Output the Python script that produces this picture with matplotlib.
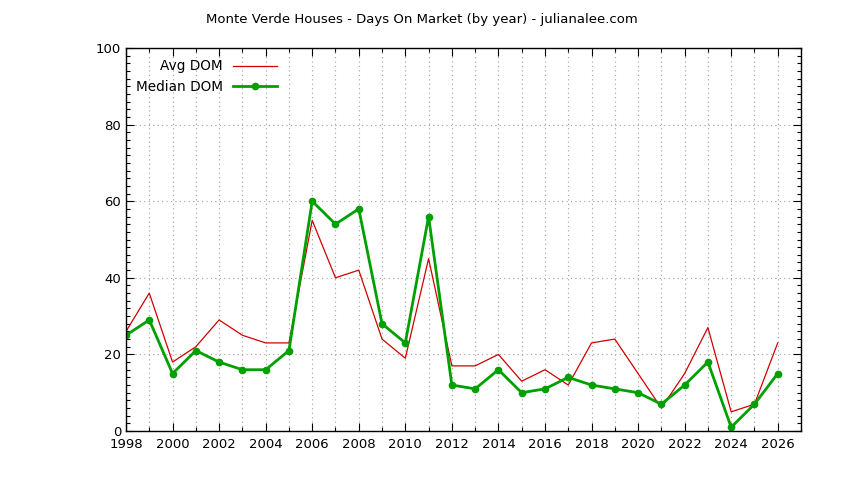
import matplotlib
matplotlib.use("Agg")
import matplotlib.pyplot as plt
from matplotlib.ticker import MultipleLocator

years = list(range(1998, 2027))
avg_dom = [26, 36, 18, 22, 29, 25, 23, 23, 55, 40, 42, 24, 19, 45,
           17, 17, 20, 13, 16, 12, 23, 24, 15, 6, 15, 27, 5, 7, 23]
median_dom = [25, 29, 15, 21, 18, 16, 16, 21, 60, 54, 58, 28, 23, 56,
              12, 11, 16, 10, 11, 14, 12, 11, 10, 7, 12, 18, 1, 7, 15]

plt.rcParams['font.family'] = ['DejaVu Sans']
plt.rcParams['font.size'] = 9.5

fig = plt.figure(figsize=(8.44, 4.8), dpi=100)
ax = fig.add_axes([126/844, 1-431/480, (801-126)/844, (431-48)/480])

ax.plot(years, avg_dom, color='#d00000', lw=0.9, label='Avg DOM')
ax.plot(years, median_dom, color='#00a000', lw=2.0, marker='o', ms=4.5,
        label='Median DOM')

ax.set_xlim(1998, 2027)
ax.set_ylim(0, 100)
ax.xaxis.set_major_locator(MultipleLocator(2))
ax.xaxis.set_minor_locator(MultipleLocator(1))
ax.yaxis.set_major_locator(MultipleLocator(20))
ax.yaxis.set_minor_locator(MultipleLocator(2))
ax.tick_params(which='both', direction='in', top=True, right=True, width=0.8)
ax.tick_params(which='major', length=6, labelsize=9.5)
ax.tick_params(which='minor', length=3)
ax.tick_params(axis='x', pad=5)
ax.grid(which='major', color='#a0a0a0', ls=(0, (1, 3)), lw=0.8)
ax.grid(which='minor', axis='x', color='#a0a0a0', ls=(0, (1, 3)), lw=0.8)
for s in ax.spines.values():
    s.set_linewidth(1.0)

ax.legend(loc='upper left', bbox_to_anchor=(0.0, 0.995), frameon=False,
          markerfirst=False, handlelength=3.2, handletextpad=0.8,
          labelspacing=0.5, borderaxespad=0.3, fontsize=9.8)

fig.text(422/844, 1-19/480, 'Monte Verde Houses - Days On Market (by year) - julianalee.com',
         ha='center', va='center', fontsize=9.5)

fig.savefig('out.png', dpi=100)
